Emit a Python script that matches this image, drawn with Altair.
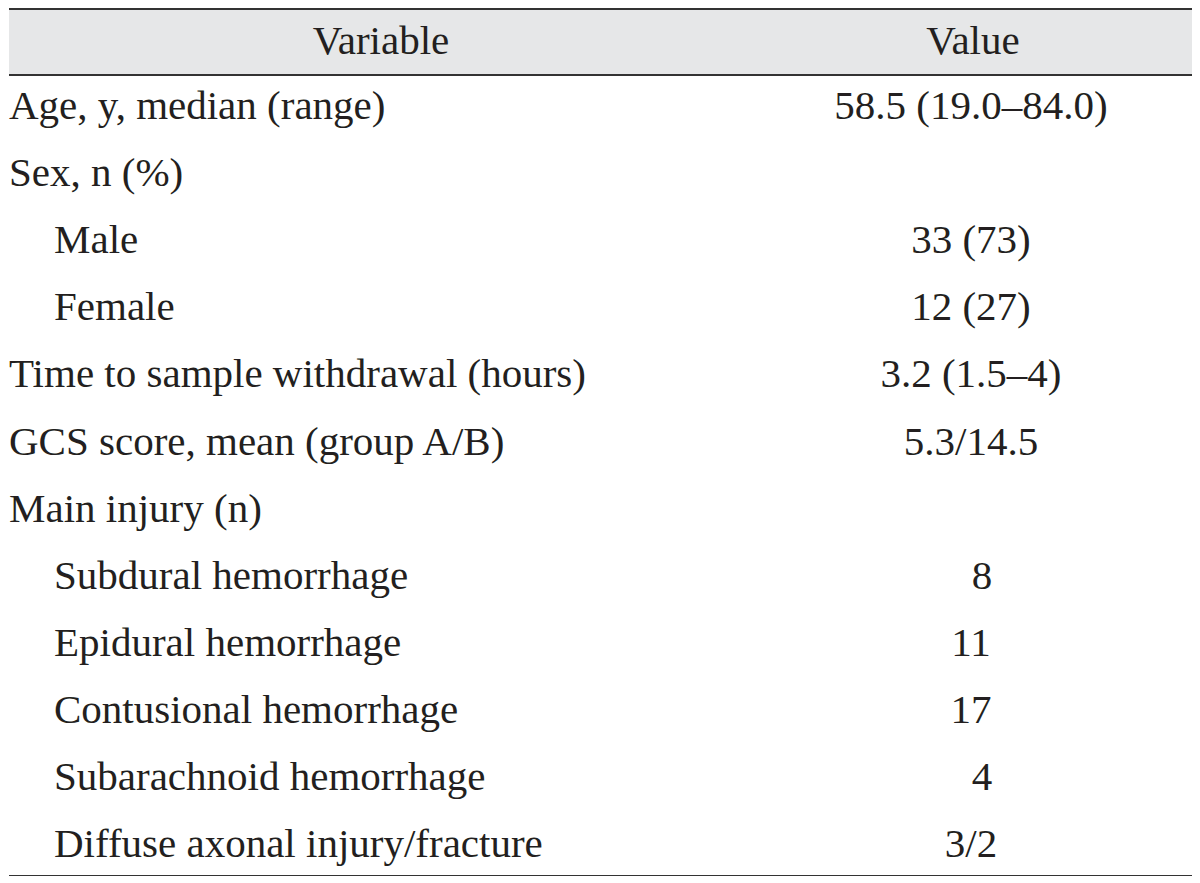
import altair as alt
import pandas as pd

variables = [
    "Age, y, median (range)",
    "Sex, n (%)",
    "Male",
    "Female",
    "Time to sample withdrawal (hours)",
    "GCS score, mean (group A/B)",
    "Main injury (n)",
    "Subdural hemorrhage",
    "Epidural hemorrhage",
    "Contusional hemorrhage",
    "Subarachnoid hemorrhage",
    "Diffuse axonal injury/fracture",
]
levels = [0, 0, 1, 1, 0, 0, 0, 1, 1, 1, 1, 1]
values = [
    "58.5 (19.0\u201384.0)",
    "",
    "33 (73)",
    "12 (27)",
    "3.2 (1.5\u20134)",
    "5.3/14.5",
    "",
    "8",
    "11",
    "17",
    "4",
    "3/2",
]
headers = ["Variable", "Value"]

W, H = 1184, 868
FONT = "Liberation Serif"
FS = 41
TXT = "#231f20"

rows = pd.DataFrame({
    "row": list(range(len(variables))),
    "variable": variables,
    "level": levels,
    "value": values,
})
head = pd.DataFrame({"row": [-0.97, -0.97], "label": headers, "col": [0, 1]})
band = pd.DataFrame({"y1": [-1.46], "y2": [-0.475]})
lines = pd.DataFrame({"row": [-1.46, -0.475, 11.46]})

yscale = alt.Scale(domain=[-1.46, 11.46], range=[1, H])

band_layer = alt.Chart(band).mark_rect(color="#e6e7e8").encode(
    y=alt.Y("y1:Q", scale=yscale, axis=None),
    y2="y2:Q",
    x=alt.value(0),
    x2=alt.value(W),
)

rule_layer = alt.Chart(lines).mark_rule(color="#333333", strokeWidth=2).encode(
    y=alt.Y("row:Q", scale=yscale, axis=None),
    x=alt.value(0),
    x2=alt.value(W),
)

head_layer = alt.Chart(head).mark_text(
    font=FONT, fontSize=FS, color=TXT, align="center", baseline="middle"
).encode(
    y=alt.Y("row:Q", scale=yscale, axis=None),
    x=alt.X("col:Q", scale=alt.Scale(domain=[0, 1], range=[372, 964]), axis=None),
    text="label:N",
)

var_layer = alt.Chart(rows).mark_text(
    font=FONT, fontSize=FS, color=TXT, align="left", baseline="middle"
).encode(
    y=alt.Y("row:Q", scale=yscale, axis=None),
    x=alt.X("level:Q", scale=alt.Scale(domain=[0, 1], range=[0, 45]), axis=None),
    text="variable:N",
)

val_layer = alt.Chart(rows).transform_filter(
    "length(datum.value) > 1"
).mark_text(
    font=FONT, fontSize=FS, color=TXT, align="center", baseline="middle"
).encode(
    y=alt.Y("row:Q", scale=yscale, axis=None),
    x=alt.value(962),
    text="value:N",
)

# single-digit counts sit right-aligned with the two-digit ones
val1_layer = alt.Chart(rows).transform_filter(
    "length(datum.value) == 1"
).mark_text(
    font=FONT, fontSize=FS, color=TXT, align="center", baseline="middle", dx=11
).encode(
    y=alt.Y("row:Q", scale=yscale, axis=None),
    x=alt.value(962),
    text="value:N",
)

chart = alt.layer(
    band_layer, rule_layer, head_layer, var_layer, val_layer, val1_layer
).resolve_scale(x="independent").properties(
    width=W,
    height=H,
    padding=0,
    autosize=alt.AutoSizeParams(type="fit", contains="padding"),
).configure_view(stroke=None)

chart.save("out.html", embed_options={"renderer": "svg", "actions": False})
